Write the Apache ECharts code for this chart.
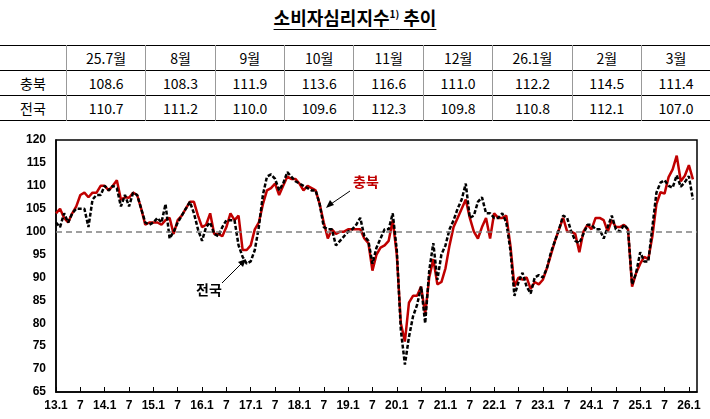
<!DOCTYPE html>
<html><head><meta charset="utf-8">
<script src="https://cdn.jsdelivr.net/npm/echarts@6/dist/echarts.min.js"></script>
<style>
body{margin:0;width:710px;height:419px;background:#fff;font-family:"Noto Sans CJK KR","Noto Sans",sans-serif;overflow:hidden}
#title{position:absolute;left:0;top:4px;width:710px;text-align:center;font-size:18px;font-weight:bold}
#title span{text-decoration:underline;text-underline-offset:4px}
#title sup{font-size:10px}
table{position:absolute;left:0;top:45px;width:710px;border-collapse:collapse;font-size:14px;font-family:"Noto Sans CJK KR",sans-serif}
td{height:24px;text-align:center;border-left:1px solid #999;padding:0}
td:first-child{border-left:none;width:66px}
tr{border-bottom:1px solid #000}
tr:first-child{border-top:1px solid #000}
#chart{position:absolute;left:0;top:125px;width:710px;height:294px}
</style></head><body>
<div id="title"><span>소비자심리지수<sup>1)</sup> 추이</span></div>
<table id="tbl"></table>
<div id="chart"></div>
<script>
const tableMonths=['25.7월','8월','9월','10월','11월','12월','26.1월','2월','3월'];
const tableChungbuk=[108.6,108.3,111.9,113.6,116.6,111.0,112.2,114.5,111.4];
const tableNational=[110.7,111.2,110.0,109.6,112.3,109.8,110.8,112.1,107.0];
const yLabels=[65,70,75,80,85,90,95,100,105,110,115,120];
const chungbuk=[
104,105,103,102,104,105.5,108,108.5,107.5,108.5,108.5,110,
110,109,110,111.2,107,107.5,107.4,108.5,108,105,101.5,102,
102,102,101.5,102.5,103,99.5,102.5,103.5,105,106.5,106.5,103.5,
101,101.5,104,99.5,99.5,99,101,104,102.5,103.5,96,96,
97,100.5,102,106,109,109.5,110.5,108,110,112,111.5,111.5,
110.5,109,110,109.5,109,106,102,98.5,100.5,99.5,100,100,
100.5,100.5,100.5,100.5,98.5,97.5,91.5,95,96.5,97,98,102.5,
95,80,76,84.5,86,86,88,82,90,94,88.5,89,
92,97,101,103,105,107,103,100,98.5,101,103,98.5,
104,103,103,103.5,97,88,90,89.5,90,87.5,89,88.5,
89.5,92,95,98,100.5,103,100,100,99.5,95.5,100,101.5,
100.5,103,103,102.5,100,102.5,101,101,101.5,100.5,88,91,
93,94.5,94,99,106
].concat(tableChungbuk);
const national=[
102,101,104,102,104,105,105,105,101,107,108,108,
110,109,110,109.5,105.5,108,105.5,108.5,108,105,102,101.5,
102,103,102,106,98.5,100,102,103.5,105,106.5,104,100.5,
98,101,102,99.5,99,101,102.5,102.5,102.5,97,94.5,93,
93.5,96,101,108,112,112.5,111.5,109,110.5,113,112,111,
110.5,110,109.5,109,109,106,101,100.5,100.5,97,98,99,
100,100.5,101.5,103,99,98,93,96.5,98.5,100.5,100.5,104,
96,78.5,71,77,81.5,84,88,80,91.5,97.5,89.5,95,
97,100.5,102.5,105,107,110.5,103,103.5,106.5,107.5,104,104,
103,103,104,102,96,86,89,91,88,86.5,90,90.5,
90,92,95.5,98,100.5,103.5,103,100,98,97.5,99.5,101.5,
101.5,100.5,100.5,98.5,101,103.5,100.5,100,101.5,100.5,88.5,91,
95.5,93.5,93.5,101,108.5
].concat(tableNational);
const months=[];
for(let y=13;y<=26;y++){for(let m=1;m<=12;m++){if(y===26&&m>3)break;months.push(y+'.'+m);}}

// table
const tbl=document.getElementById('tbl');
const rows=[[''].concat(tableMonths),['충북'].concat(tableChungbuk.map(v=>v.toFixed(1))),['전국'].concat(tableNational.map(v=>v.toFixed(1)))];
tbl.innerHTML=rows.map(r=>'<tr>'+r.map(c=>'<td>'+c+'</td>').join('')+'</tr>').join('');

const chart=echarts.init(document.getElementById('chart'));
chart.setOption({
  animation:false,
  grid:{left:56,right:13,top:15,bottom:27,show:true,borderColor:'#000',borderWidth:1.5},
  xAxis:{type:'category',data:months,boundaryGap:false,
    axisLine:{lineStyle:{color:'#000',width:1.5}},
    axisTick:{inside:true,length:5,interval:(i)=>i%6===0,lineStyle:{color:'#000'}},
    axisLabel:{interval:(i)=>i%6===0,fontWeight:'bold',fontSize:12,color:'#000',margin:8,
      formatter:(v)=>{const [y,m]=v.split('.');return m==='1'?y+'.1':'7';}}},
  yAxis:{type:'value',min:65,max:120,interval:5,splitLine:{show:false},
    axisLine:{show:true,lineStyle:{color:'#000',width:1.5}},axisTick:{show:false},
    axisLabel:{fontWeight:'bold',fontSize:12,color:'#000',margin:10}},
  series:[
    {name:'충북',type:'line',data:chungbuk,symbol:'none',lineStyle:{color:'#c00000',width:2.5},
     markLine:{silent:true,symbol:'none',label:{show:false},lineStyle:{color:'#808080',type:[6,4],width:1.5},data:[{yAxis:100}]}},
    {name:'전국',type:'line',data:national,symbol:'none',lineStyle:{color:'#000',width:2.5,type:[4,2]}}
  ],
  graphic:[
    {type:'text',left:353,top:50,style:{text:'충북',fill:'#c00000',font:'bold 14px "Noto Sans CJK KR"'}},
    {type:'line',shape:{x1:350,y1:66,x2:328,y2:81},style:{stroke:'#000',lineWidth:1}},
    {type:'polygon',shape:{points:[[326,83],[334,80],[330,75]]},style:{fill:'#000'}},
    {type:'text',left:196,top:158,style:{text:'전국',fill:'#000',font:'bold 14px "Noto Sans CJK KR"'}},
    {type:'line',shape:{x1:222,y1:158,x2:244,y2:136},style:{stroke:'#000',lineWidth:1}},
    {type:'polygon',shape:{points:[[246,134],[238,137],[243,142]]},style:{fill:'#000'}}
  ]
});
</script></body></html>
